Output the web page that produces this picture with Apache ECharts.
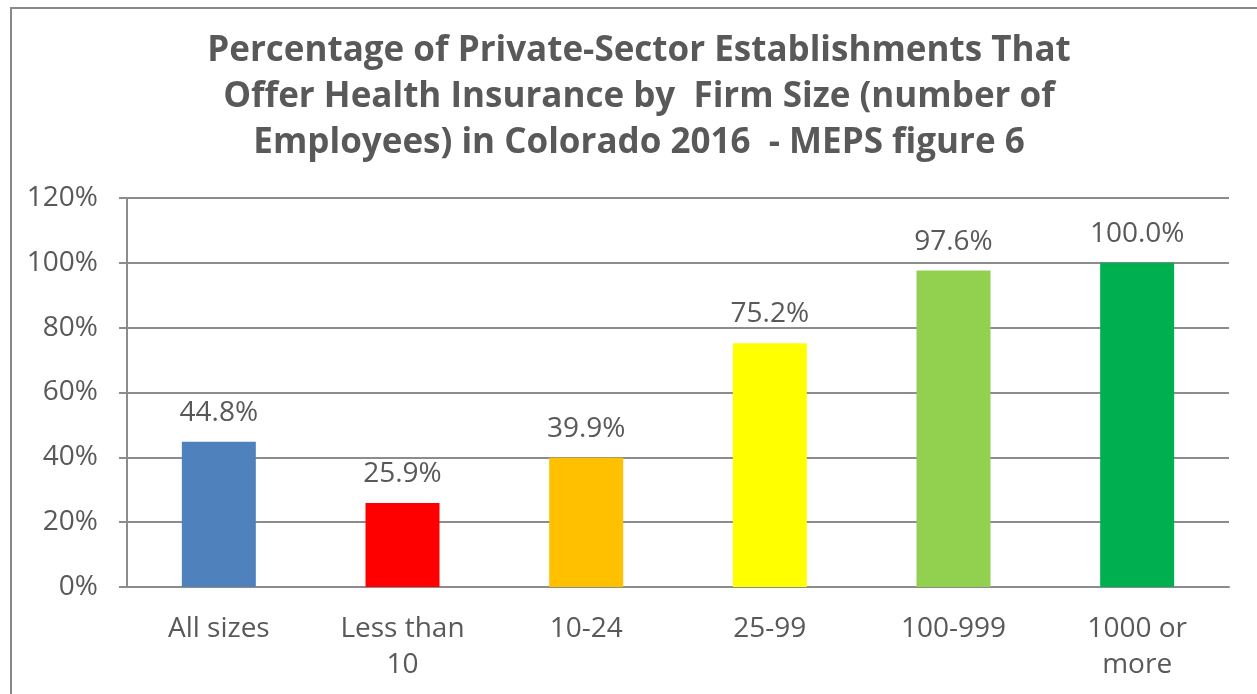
<!DOCTYPE html>
<html>
<head>
<meta charset="utf-8">
<script src="https://cdn.jsdelivr.net/npm/echarts@6/dist/echarts.min.js"></script>
<style>
  html, body { margin: 0; padding: 0; background: #fff; }
  #chart { width: 1257px; height: 694px; }
</style>
</head>
<body>
<div id="chart"></div>
<script>
// firm size categories and percentage offering health insurance
const categories = ["All sizes", "Less than\n10", "10-24", "25-99", "100-999", "1000 or\nmore"];
const values = [44.8, 25.9, 39.9, 75.2, 97.6, 100.0];
const barColors = ["#4F81BD", "#FF0000", "#FFC000", "#FFFF00", "#92D050", "#00B050"];
const yTicks = [0, 20, 40, 60, 80, 100, 120];

const textColor = "#595959";
const font = "'Open Sans', sans-serif";

let chart = echarts.init(document.getElementById("chart"));

chart.setOption({
  animation: false,
  title: {
    text: "Percentage of Private-Sector Establishments That\nOffer Health Insurance by  Firm Size (number of\nEmployees) in Colorado 2016  - MEPS figure 6",
    top: 23,
    left: 634,
    textAlign: "center",
    textStyle: {
      color: textColor,
      fontFamily: font,
      fontWeight: "bold",
      fontSize: 35,
      lineHeight: 46
    }
  },
  graphic: [
    {
      type: "rect",
      shape: { x: 11, y: 8, width: 1300, height: 800 },
      style: { fill: "none", stroke: "#898989", lineWidth: 2 },
      silent: true
    }
  ],
  grid: { left: 127, right: 28, top: 198, bottom: 107 },
  xAxis: {
    type: "category",
    data: categories,
    axisLine: { lineStyle: { color: "#8c8c8c", width: 2 } },
    axisTick: { length: 8, lineStyle: { color: "#8c8c8c", width: 2 } },
    axisLabel: {
      color: textColor,
      fontFamily: font,
      fontSize: 28,
      lineHeight: 36,
      margin: 24
    }
  },
  yAxis: {
    type: "value",
    min: 0,
    max: 120,
    interval: 20,
    axisLine: { show: true, lineStyle: { color: "#8c8c8c", width: 2 } },
    axisTick: { show: true, length: 8, lineStyle: { color: "#8c8c8c", width: 2 } },
    splitLine: { lineStyle: { color: "#8c8c8c", width: 2 } },
    axisLabel: {
      color: textColor,
      fontFamily: font,
      fontSize: 28,
      margin: 29,
      formatter: function (v) {
        return yTicks.indexOf(v) >= 0 ? v + "%" : "";
      }
    }
  },
  series: [
    {
      type: "bar",
      barWidth: 74,
      data: values.map(function (v, i) {
        return { value: v, itemStyle: { color: barColors[i] } };
      }),
      label: {
        show: true,
        position: "top",
        distance: 15,
        color: textColor,
        fontFamily: font,
        fontSize: 28,
        formatter: function (p) {
          return p.value.toFixed(1) + "%";
        }
      }
    }
  ]
});
</script>
</body>
</html>
